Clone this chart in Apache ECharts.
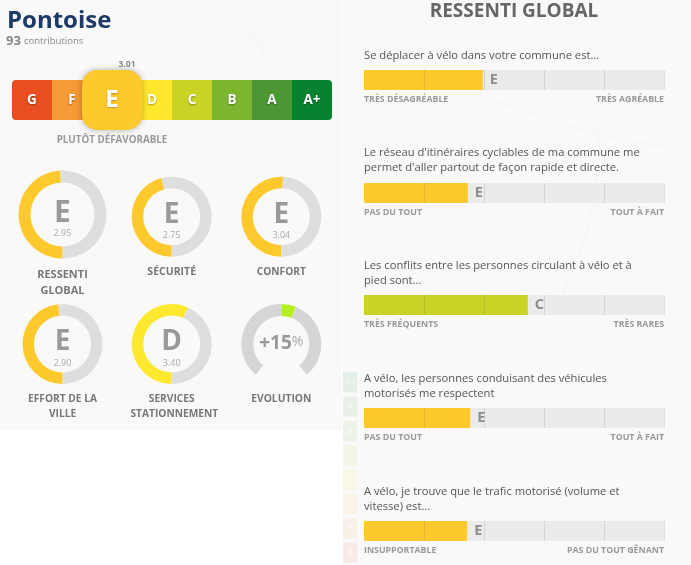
<!DOCTYPE html>
<html><head><meta charset="utf-8">
<style>html,body{margin:0;padding:0;background:#fff}#c{width:691px;height:565px}</style>
<script src="https://cdn.jsdelivr.net/npm/echarts@6/dist/echarts.min.js"></script>
</head><body><div id="c"></div>
<script>
const FONT = '"Open Sans"';
// --- data ---
const cityName = 'Pontoise';
const contributions = 93;
const overallScore = 3.01;
const overallGrade = 'E';
const overallLabel = 'PLUTÔT DÉFAVORABLE';
const grades = ['G','F','E','D','C','B','A','A+'];
const gradeColors = ['#e84e20','#f59a35','#fdc92c','#ffe92e','#c8d325','#7cb52e','#4c9634','#06822f'];
const donutNames = ['RESSENTI\nGLOBAL','SÉCURITÉ','CONFORT','EFFORT DE LA\nVILLE','SERVICES\n\u00a0\u00a0STATIONNEMENT'];
const donutGrades = ['E','E','E','E','D'];
const donutValues = [2.95,2.75,3.04,2.90,3.40];
const evolutionName = 'EVOLUTION';
const evolutionValue = 15;
const panelTitle = 'RESSENTI GLOBAL';
const questions = [
 'Se déplacer à vélo dans votre commune est...',
 "Le réseau d'itinéraires cyclables de ma commune me\npermet d'aller partout de façon rapide et directe.",
 'Les conflits entre les personnes circulant à vélo et à\npied sont...',
 'A vélo, les personnes conduisant des véhicules\nmotorisés me respectent',
 'A vélo, je trouve que le trafic motorisé (volume et\nvitesse) est...'];
const questionValues = [2.98,2.73,3.73,2.77,2.72];
const questionGrades = ['E','E','C','E','E'];
const lowLabels = ['TRÈS DÉSAGRÉABLE','PAS DU TOUT','TRÈS FRÉQUENTS','PAS DU TOUT','INSUPPORTABLE'];
const highLabels = ['TRÈS AGRÉABLE','TOUT À FAIT','TRÈS RARES','TOUT À FAIT','PAS DU TOUT GÊNANT'];
const scaleTicks = [2,3,4,5,6];
const legendGrades = ['A+','A','B','C','D','E','F','G'];
const legendRanges = ['>= 4.6','>= 4.3 et < 4.6','>= 3.9 et < 4.3','>= 3.5 et < 3.9','>= 3.1 et < 3.5','>= 2.7 et < 3.1','>= 2.3 et < 2.7','< 2.3'];

// --- layout ---
const donutLayout = [[62.5,214.5,44,32,267,16,11],[171.7,216.7,40,28.5,264,16,10.5],[281.3,216.7,40,28.5,264,16,10.2],[62.5,344,40,28.5,392,14.5,10.2],[171.7,344,40,28.5,392,14.5,10.2]];
const barTops = [70,183,295,408,521];
const questionY = [48,145,258,371,484];
const gradeColor = g => gradeColors[grades.indexOf(g)];

const grid=[], xAxis=[], yAxis=[], series=[];
// grade strip
grid.push({left:12,top:80,width:320,height:40});
xAxis.push({type:'category',gridIndex:0,data:grades,show:false});
yAxis.push({type:'value',gridIndex:0,min:0,max:1,show:false});
series.push({type:'bar',xAxisIndex:0,yAxisIndex:0,barWidth:'100%',silent:true,z:3,
  data:grades.map((g,i)=>({value:1,itemStyle:{color:gradeColors[i],
    borderRadius:i===0?[4,0,0,4]:i===grades.length-1?[0,4,4,0]:0}})),
  label:{show:true,position:'inside',formatter:p=>p.name,color:'#fff',fontFamily:FONT,fontWeight:700,fontSize:13.5,
    textShadowColor:'rgba(0,0,0,.35)',textShadowBlur:2,textShadowOffsetY:1}});
series.push({type:'scatter',xAxisIndex:0,yAxisIndex:0,symbol:'roundRect',symbolSize:60,silent:true,z:5,
  data:[[overallGrade,0.5]],
  itemStyle:{color:gradeColor(overallGrade),opacity:1,shadowColor:'rgba(0,0,0,.3)',shadowBlur:6},
  label:{show:true,position:'inside',formatter:overallGrade,color:'#fff',fontFamily:FONT,fontWeight:700,fontSize:24,
    textShadowColor:'rgba(0,0,0,.25)',textShadowBlur:2,textShadowOffsetY:1}});
// faint legend behind the right panel
grid.push({left:343,top:370,width:14,height:208});
xAxis.push({type:'value',gridIndex:1,min:0,max:1,show:false});
yAxis.push({type:'category',gridIndex:1,inverse:true,data:legendGrades,show:false});
series.push({type:'bar',xAxisIndex:1,yAxisIndex:1,barWidth:20,silent:true,z:1,
  data:legendGrades.map(g=>({value:1,itemStyle:{color:gradeColor(g),opacity:.09}})),
  label:{show:true,position:'right',distance:5,formatter:p=>legendRanges[p.dataIndex],color:'rgba(120,120,120,.1)',fontFamily:FONT,fontSize:8}});
series.push({type:'bar',xAxisIndex:1,yAxisIndex:1,barWidth:20,barGap:'-100%',silent:true,z:2,
  data:legendGrades.map(()=>1),itemStyle:{color:'transparent'},
  label:{show:true,position:'inside',formatter:p=>p.name,color:'rgba(255,255,255,.45)',fontFamily:FONT,fontWeight:700,fontSize:9}});
// question bars
questions.forEach((q,i)=>{
  const gi=grid.length;
  grid.push({left:364,top:barTops[i],width:300,height:20,show:true,backgroundColor:'#ebebeb',borderWidth:0});
  xAxis.push({type:'value',gridIndex:gi,min:1,max:6,interval:1,show:false});
  yAxis.push({type:'category',gridIndex:gi,data:[q],show:false});
  series.push({type:'bar',xAxisIndex:gi,yAxisIndex:gi,barWidth:'100%',silent:true,z:3,
    data:[questionValues[i]],itemStyle:{color:gradeColor(questionGrades[i])},
    label:{show:true,position:'right',distance:7,formatter:questionGrades[i],color:'#8d8d8d',fontFamily:FONT,fontWeight:700,fontSize:14.5},
    markLine:{silent:true,symbol:'none',label:{show:false},animation:false,
      lineStyle:{color:'rgba(60,60,60,.13)',width:1,type:'solid'},
      data:scaleTicks.map(v=>({xAxis:v}))}});
});
// donuts
donutValues.forEach((v,i)=>{
  const [cx,cy,R,r]=donutLayout[i];
  series.push({type:'pie',center:[cx,cy],radius:[r,R],startAngle:270,clockwise:true,silent:true,animation:false,
    data:[{value:v,itemStyle:{color:gradeColor(donutGrades[i])},
      label:{show:true,position:'center',
        formatter:'{s| }\n{g|'+donutGrades[i]+'}\n{v|'+v.toFixed(2)+'}',
        rich:{s:{fontSize:4,lineHeight:8},
              g:{fontFamily:FONT,fontWeight:700,fontSize:i===0?30:28,color:'#999',lineHeight:30},
              v:{fontFamily:FONT,fontSize:9,color:'#aaa',lineHeight:11}}}},
      {value:6-v,itemStyle:{color:'#dedede'},label:{show:false}}],
    labelLine:{show:false}});
});
// evolution gauge
const evoStart=(100)/200, evoEnd=(100+evolutionValue)/200;
series.push({type:'gauge',center:[281.3,344],radius:40,startAngle:230,endAngle:-50,min:-100,max:100,silent:true,animation:false,
  axisLine:{lineStyle:{width:12,color:[[evoStart,'#d6d6d6'],[evoEnd,'#b3f01c'],[1,'#d6d6d6']]}},
  axisTick:{show:false},splitLine:{show:false},axisLabel:{show:false},pointer:{show:false},anchor:{show:false},title:{show:false},
  detail:{show:true,offsetCenter:[0,0],valueAnimation:false,
    formatter:v=>'{a|+'+v+'}{b|%}',
    rich:{a:{fontFamily:FONT,fontWeight:700,fontSize:19,color:'#999'},b:{fontFamily:FONT,fontWeight:400,fontSize:14,color:'#aaa',padding:[0,0,4,0]}}},
  data:[{value:evolutionValue}]});

const txt=(x,y,text,o)=>({type:'text',x,y,silent:true,z:10,style:Object.assign({text,fontFamily:FONT,textAlign:'left',textVerticalAlign:'top'},o)});
const mapLine=pts=>({type:'polyline',silent:true,z:-5,shape:{points:pts,smooth:0.3},style:{stroke:'#f6f6f6',lineWidth:2,fill:'none'}});
const graphic=[
 {type:'rect',shape:{x:0,y:0,width:342,height:430},style:{fill:'#f9f9f9'},silent:true,z:-10},
 {type:'rect',shape:{x:343,y:0,width:348,height:565},style:{fill:'#f9f9f9'},silent:true,z:-10},
 mapLine([[345,40],[480,95],[600,135],[691,150]]),
 mapLine([[600,130],[590,220],[560,300]]),
 mapLine([[190,0],[262,45],[240,90]]),
 mapLine([[0,120],[60,150],[110,170]]),
 txt(7,9,cityName,{fontSize:24,fontWeight:700,fill:'#1d3a66'}),
 txt(6,35,'{a|'+contributions+'} {b|contributions}',{rich:{a:{fontFamily:FONT,fontWeight:700,fontSize:13,fill:'#888'},b:{fontFamily:FONT,fontSize:9.5,fill:'#888'}}}),
 txt(127,60,overallScore.toFixed(2),{fontSize:8.5,fontWeight:700,fill:'#888',textAlign:'center'}),
 txt(112,135,overallLabel,{fontSize:9.8,fontWeight:700,fill:'#999',textAlign:'center'}),
 txt(514,2,panelTitle,{fontSize:19,fontWeight:700,fill:'#666',textAlign:'center'}),
];
donutNames.forEach((n,i)=>graphic.push(txt(donutLayout[i][0],donutLayout[i][4],n,{fontSize:donutLayout[i][6],fontWeight:700,fill:'#777',textAlign:'center',lineHeight:donutLayout[i][5]})));
graphic.push(txt(281.3,392,evolutionName,{fontSize:10.3,fontWeight:700,fill:'#777',textAlign:'center',lineHeight:14.5}));
questions.forEach((q,i)=>{
  graphic.push(txt(364,questionY[i],q,{fontSize:11.2,fill:'#555',lineHeight:15}));
  graphic.push(txt(364,barTops[i]+25,lowLabels[i],{fontSize:8.8,fontWeight:700,fill:'#999'}));
  graphic.push(txt(664,barTops[i]+25,highLabels[i],{fontSize:8.8,fontWeight:700,fill:'#999',textAlign:'right'}));
});
const chart=echarts.init(document.getElementById('c'),null,{renderer:'canvas'});
chart.setOption({animation:false,backgroundColor:'#fff',grid,xAxis,yAxis,series,graphic});
</script></body></html>
